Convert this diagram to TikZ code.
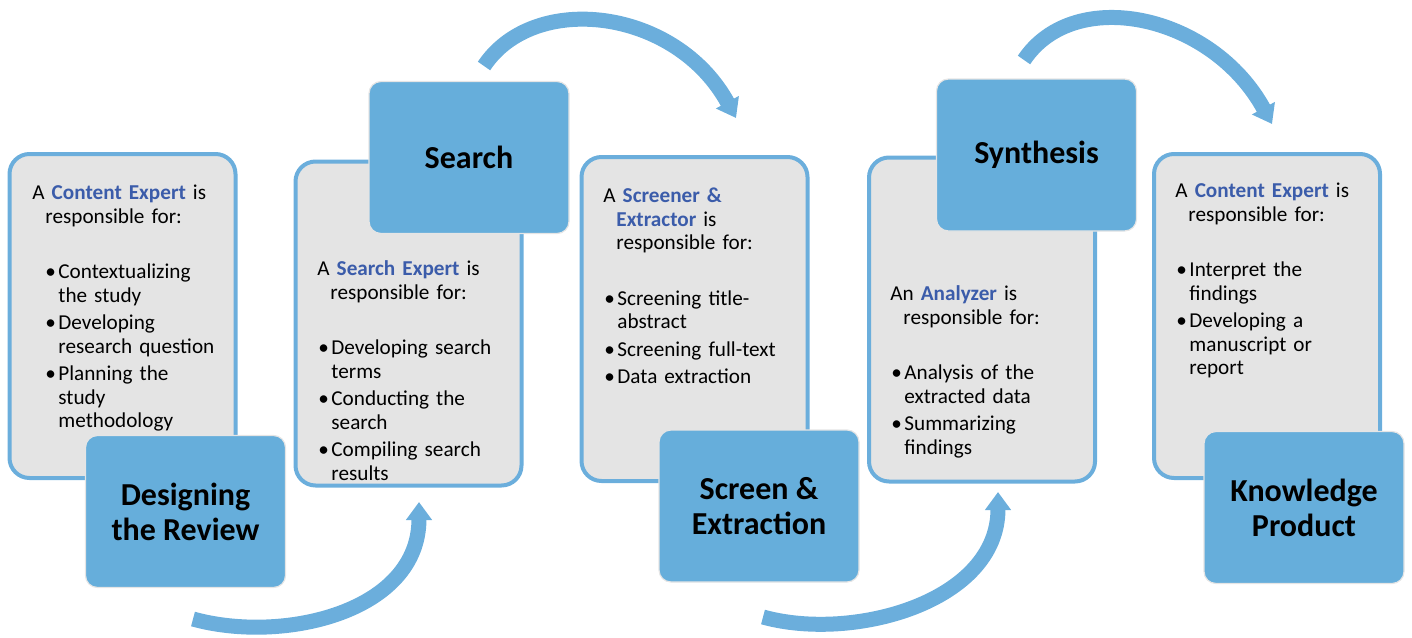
\documentclass[tikz,border=0pt]{standalone}
\usepackage{fontspec}
\setmainfont{Carlito}
\usepackage{tikz}
\usetikzlibrary{arrows.meta}
\definecolor{boxgray}{RGB}{228,228,228}
\definecolor{rimblue}{RGB}{107,174,220}
\definecolor{stageblue}{RGB}{102,174,219}
\definecolor{rolename}{RGB}{59,92,170}
\tikzset{
	% Two box styles: grey role boxes and blue stage boxes
	role box/.style={rectangle,rounded corners=10pt,draw=rimblue,line width=2pt,fill=boxgray,minimum width=113pt,minimum height=162pt},
	stage box/.style={rectangle,rounded corners=6pt,draw=black!10,line width=0.6pt,fill=stageblue,minimum width=100pt,minimum height=76pt,align=center,font=\fontsize{16pt}{17.5pt}\selectfont\bfseries},
	role text/.style={anchor=base west,inner sep=0,text width=105pt,align=left,font=\fontsize{10.6pt}{11.75pt}\selectfont},
	% thick curved arrow between stages
	flow/.style={draw=rimblue,line width=7.5pt,-{Triangle[width=12.5pt,length=9pt]}}
}
% macros for the role texts
\newcommand{\who}[1]{\textbf{\color{rolename}#1}}
\newcommand{\intro}[1]{\par\hangindent=6.5pt\hangafter=1\noindent#1\par\vspace{14pt}}
\newcommand{\point}[2][0.5pt]{\par\vspace{2pt}\hangindent=\dimexpr#1+6.5pt\relax\hangafter=1\noindent\hspace*{#1}\makebox[6.5pt][l]{\textbullet}#2\par}

\begin{document}
\begin{tikzpicture}[x=0.5pt,y=-0.5pt]
	\useasboundingbox (0,0) rectangle (1412,637);
	
	% grey boxes, one for each role
	\node(role-1)[role box] at (122.5,316){};
	\node(role-2)[role box] at (408.5,323.5){};
	\node(role-3)[role box] at (694.5,319){};
	\node(role-4)[role box] at (982,319.5){};
	\node(role-5)[role box] at (1267,316){};
	
	% what each role is responsible for
	\node(text-1)[role text] at (32,176){%
		\intro{A \who{Content Expert} is\newline responsible for:}
		\point[6.5pt]{Contextualizing\newline the study}
		\point[6.5pt]{Developing\newline research question}
		\point[6.5pt]{Planning the\newline study\newline methodology}};
	\node(text-2)[role text] at (317,252){%
		\intro{A \who{Search Expert} is\newline responsible for:}
		\point{Developing search\newline terms}
		\point{Conducting the\newline search}
		\point{Compiling search\newline results}};
	\node(text-3)[role text] at (603,179){%
		\intro{A \who{Screener \&}\newline\who{Extractor} is\newline responsible for:}
		\point{Screening title-\newline abstract}
		\point{Screening full-text}
		\point{Data extraction}};
	\node(text-4)[role text] at (890,277){%
		\intro{An \who{Analyzer} is\newline responsible for:}
		\point{Analysis of the\newline extracted data}
		\point{Summarizing\newline findings}};
	\node(text-5)[role text] at (1175,174){%
		\intro{A \who{Content Expert} is\newline responsible for:}
		\point{Interpret the\newline findings}
		\point{Developing a\newline manuscript or\newline report}};
	
	% blue boxes naming the stages
	\node(stage-1)[stage box] at (185.5,511.5){Designing\\the Review};
	\node(stage-2)[stage box] at (469,157.5){Search};
	\node(stage-3)[stage box] at (759,506){Screen \&\\Extraction};
	\node(stage-4)[stage box] at (1036.5,155){Synthesis};
	\node(stage-5)[stage box] at (1304,507.5){Knowledge\\Product};
	
	% ends of the curved arrows
	\coordinate(tail-1) at (193,619);
	\coordinate(tip-1) at (419,502);
	\coordinate(tail-2) at (484,66);
	\coordinate(tip-2) at (736,118);
	\coordinate(tail-3) at (763,617);
	\coordinate(tip-3) at (998,492);
	\coordinate(tail-4) at (1024,60);
	\coordinate(tip-4) at (1272,124);
	
	\draw[flow](tail-1) .. controls +(90,25) and +(0,110) .. (tip-1);
	\draw[flow](tail-2) .. controls +(50,-75) and +(-60,-110) .. (tip-2);
	\draw[flow](tail-3) .. controls +(90,25) and +(0,110) .. (tip-3);
	\draw[flow](tail-4) .. controls +(50,-75) and +(-60,-110) .. (tip-4);
\end{tikzpicture}
\end{document}
